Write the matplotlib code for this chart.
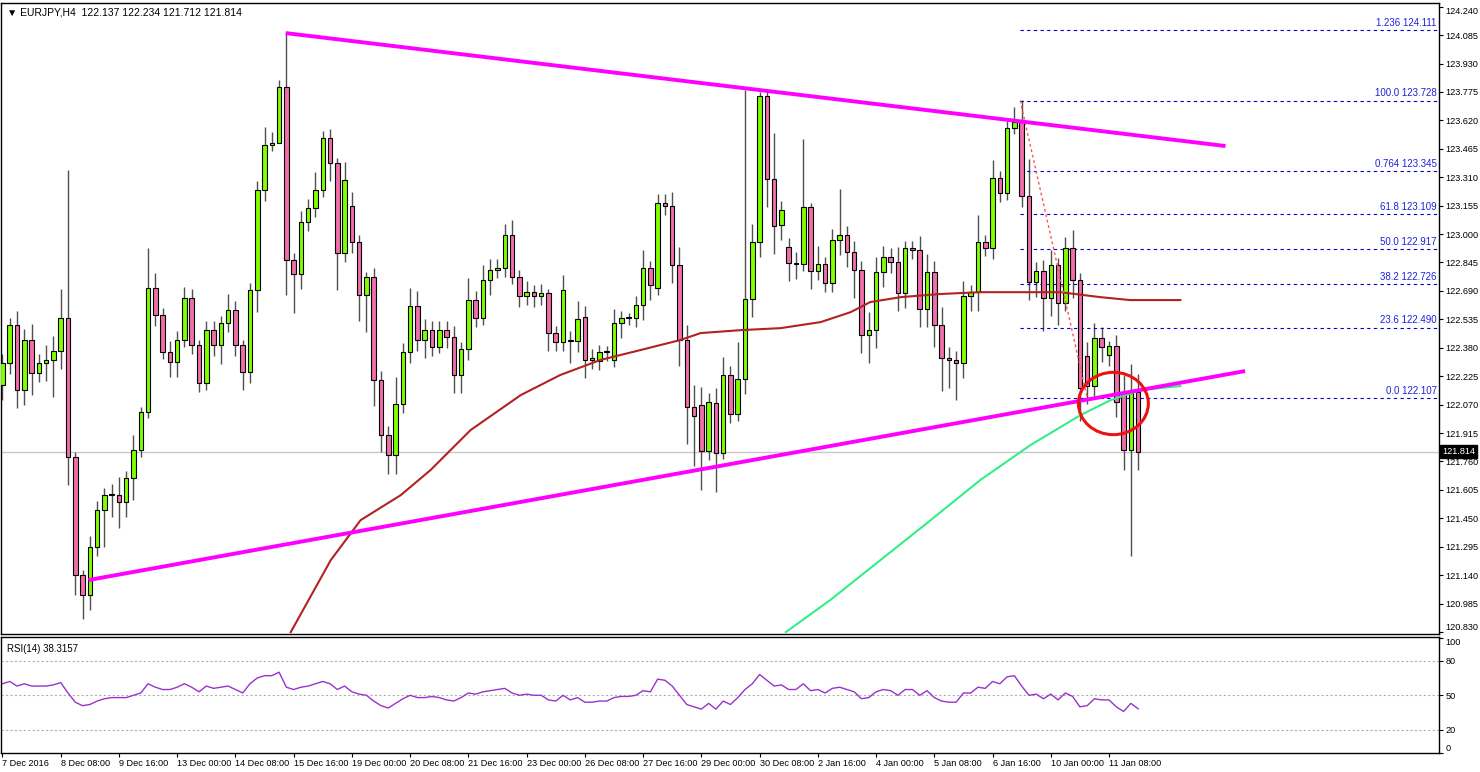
import matplotlib
matplotlib.use("Agg")
import matplotlib.pyplot as plt
from matplotlib.patches import Ellipse
import numpy as np

plt.rcParams['font.family'] = ['Liberation Sans', 'DejaVu Sans']

closes = [122.296,122.503,122.149,122.422,122.242,122.296,122.313,122.362,122.542,121.784,
121.140,121.031,121.293,121.494,121.576,121.576,121.538,121.669,121.822,122.029,
122.705,122.558,122.356,122.302,122.422,122.651,122.394,122.187,122.476,122.394,
122.514,122.585,122.394,122.247,122.694,123.240,123.485,123.496,123.802,122.858,
122.782,123.065,123.142,123.240,123.523,123.387,122.896,123.294,122.956,122.667,
122.765,122.203,121.904,121.794,122.073,122.356,122.607,122.422,122.476,122.383,
122.476,122.438,122.231,122.373,122.640,122.542,122.749,122.803,122.814,122.994,
122.765,122.662,122.683,122.662,122.678,122.460,122.411,122.694,122.416,122.536,
122.313,122.323,122.356,122.362,122.514,122.542,122.542,122.613,122.814,122.722,
123.169,123.152,122.831,122.422,122.056,122.007,121.816,122.083,121.805,122.231,
122.018,122.209,122.645,122.956,123.752,123.300,123.043,123.131,122.842,122.836,
123.147,122.798,122.836,122.733,122.967,122.994,122.902,122.803,122.449,122.476,
122.793,122.874,122.847,122.678,122.923,122.912,122.591,122.793,122.503,122.323,
122.313,122.296,122.662,122.683,122.956,122.923,123.305,123.223,123.578,123.611,
123.207,122.738,122.798,122.651,122.831,122.623,122.923,122.749,122.160,122.171,
122.433,122.383,122.389,122.083,121.822,122.133,121.814]

open_gaps = {0:122.176,48:123.152,78:122.422,80:122.547,82:122.307,84:122.313,90:122.705,
96:122.067,98:122.078,107:123.049,108:122.929,149:122.334,152:122.340,154:122.133,156:122.137}

wick_up = [5,4,8,6,9,5,8,8,16,81, 3,3,6,5,4,6,10,4,8,3, 22,8,4,6,5,6,5,3,5,5,
4,9,5,3,4,5,10,6,4,29, 4,6,5,10,4,5,3,10,8,4, 3,5,5,5,15,5,10,8,6,5,
5,5,6,4,12,5,8,6,5,6, 8,4,6,4,5,2,4,8,5,10, 6,5,4,3,8,4,3,5,10,4,
5,5,8,10,8,12,10,5,8,10, 5,20,114,10,2,2,25,5,5,6, 37,2,10,4,6,25,5,6,5,10,
8,6,5,8,4,4,8,10,6,10, 6,5,8,4,15,4,10,4,4,8, 12,20,5,6,8,4,6,10,4,8,
8,6,3,6,10,16,10]
wick_dn = [8,6,10,8,12,5,10,20,10,15, 11,13,8,5,20,12,14,8,12,4, 3,6,4,8,8,4,5,5,4,6,
10,5,6,10,6,12,6,3,0,19, 21,8,5,5,4,10,20,5,6,14, 20,14,9,10,10,5,6,6,10,5,
3,6,10,10,6,5,4,8,4,5, 4,6,5,6,5,10,5,5,12,6, 10,5,5,5,4,8,4,5,8,8,
4,5,10,14,20,27,21,5,21,3, 5,4,8,10,8,15,15,8,10,8, 4,10,5,5,5,8,8,15,10,15,
10,8,6,10,8,5,10,10,12,18, 15,20,8,8,10,4,6,5,4,3, 6,10,8,18,10,12,4,10,18,10,
6,8,6,8,11,58,10]

rsi = [60,62,58,60,58,58,58,59,61,52, 44,41,42,45,47,48,48,48,50,52,
60,57,55,55,57,60,57,53,58,56, 57,58,55,52,60,65,67,67,70,57,
55,57,58,60,62,60,55,58,53,51, 50,45,41,39,43,47,50,48,48,49,
48,46,45,48,52,51,53,54,55,56, 52,50,51,50,50,46,45,50,46,48,
44,44,45,45,48,49,49,50,54,53, 64,63,58,50,42,40,38,43,38,45,
42,48,55,60,68,63,58,59,55,55, 60,54,55,52,56,57,55,53,47,48,
53,55,54,50,55,55,50,54,48,45, 44,44,52,52,57,56,62,60,66,67,
58,50,51,47,51,46,52,49,40,41, 47,46,46,40,36,43,38.3157]

ma_red_x = [39.6,45.1,49.2,54.7,58.8,64.3,71.2,76.6,82.1,87.6,93.1,95.9,101.4,106.9,112.4,116.5,119.2,123.4,128.8,134.3,139.8,145.3,150.8,154.9,161.8]
ma_red_y = [120.829,121.222,121.440,121.576,121.713,121.931,122.122,122.231,122.313,122.367,122.422,122.460,122.476,122.487,122.520,122.574,122.629,122.656,122.673,122.683,122.683,122.683,122.656,122.640,122.640]
ma_green_x = [107.6,113.7,120.6,127.5,134.3,141.2,148.1,152.2,156.3,161.8]
ma_green_y = [120.829,121.004,121.222,121.440,121.658,121.849,122.013,122.094,122.149,122.171]

trend_upper = [(38.9,124.096),(168.0,123.480)]
trend_lower = [(11.8,121.113),(170.7,122.253)]
fib_levels = [("1.236",124.111),("100.0",123.728),("0.764",123.345),("61.8",123.109),
              ("50.0",122.917),("38.2",122.726),("23.6",122.490),("0.0",122.107)]
fib_start = 139.8
date_labels = ["7 Dec 2016","8 Dec 08:00","9 Dec 16:00","13 Dec 00:00","14 Dec 08:00","15 Dec 16:00",
"19 Dec 00:00","20 Dec 08:00","21 Dec 16:00","23 Dec 00:00","26 Dec 08:00","27 Dec 16:00",
"29 Dec 00:00","30 Dec 08:00","2 Jan 16:00","4 Jan 00:00","5 Jan 08:00","6 Jan 16:00",
"10 Jan 00:00","11 Jan 08:00"]
yticks = [124.240,124.085,123.930,123.775,123.620,123.465,123.310,123.155,123.000,122.845,122.690,
122.535,122.380,122.225,122.070,121.915,121.760,121.605,121.450,121.295,121.140,120.985,120.830]
rsi_ticks = [100, 80, 50, 20, 0]
last_price = 121.814

n = len(closes)
opens = [open_gaps.get(i, closes[i-1] if i > 0 else closes[0]) for i in range(n)]
highs = [max(o, c) + u/100 for o, c, u in zip(opens, closes, wick_up)]
lows = [min(o, c) - d/100 for o, c, d in zip(opens, closes, wick_dn)]
x = np.arange(n)

W, H = 1480, 772
PW = 1438
fig = plt.figure(figsize=(W/100, H/100), dpi=100)
ax = fig.add_axes([1/W, (H-634)/H, PW/W, 631/H])
ar = fig.add_axes([1/W, (H-753)/H, PW/W, 116/H])
xmax = -0.2 + PW/7.28
for a in (ax, ar):
    a.set_xlim(-0.2, xmax)
    for s in a.spines.values():
        s.set_linewidth(1.0); s.set_color('black')
ax.set_ylim(120.819, 124.260)
ar.set_ylim(0.3, 100.5)

ax.axhline(last_price, color='#c8c8c8', lw=1, zorder=1)
ax.vlines(x, lows, highs, color='#505050', lw=1, zorder=2)
bull = np.array(closes) >= np.array(opens)
bottoms = np.minimum(opens, closes)
heights = np.maximum(np.abs(np.array(closes) - np.array(opens)), 0.004)
ax.bar(x, heights, bottom=bottoms, width=0.62, color=np.where(bull, '#80ff00', '#f06eaa'),
       edgecolor='black', linewidth=0.8, zorder=3)

ax.plot(ma_red_x, ma_red_y, color='#b22222', lw=1.5, zorder=4)
ax.plot(ma_green_x, ma_green_y, color='#33ee88', lw=1.5, zorder=4)
for t in (trend_upper, trend_lower):
    ax.plot([t[0][0], t[1][0]], [t[0][1], t[1][1]], color='#ff00ff', lw=2.8, zorder=5, solid_capstyle='butt')
for lab, lv in fib_levels:
    ax.plot([fib_start, xmax], [lv, lv], color='#0000cc', lw=0.8, ls=(0, (3, 3)), zorder=2)
    ax.text(xmax - 0.3, lv + 0.012, f"{lab} {lv:.3f}", color='#2020dd', fontsize=7, ha='right', va='bottom')
ax.plot([fib_start, 149.0], [123.728, 122.107], color='#ff5555', lw=1, ls=(0, (2, 2)), zorder=4)
ax.add_patch(Ellipse((152.6, 122.076), 9.6, 0.34, fill=False, edgecolor='#ee1111', lw=2.2, zorder=6))

ax.yaxis.tick_right()
ax.set_yticks(yticks)
ax.set_yticklabels([f"{v:.3f}" for v in yticks], fontsize=6.6)
ax.tick_params(axis='y', length=3, pad=1.5)
for lbl in ax.get_yticklabels()[:1]:
    lbl.set_va('top')
for lbl in ax.get_yticklabels()[-1:]:
    lbl.set_va('bottom')
ax.set_xticks([])
ax.text(0.004, 0.993, "▼ EURJPY,H4  122.137 122.234 121.712 121.814", transform=ax.transAxes,
        fontsize=7.5, va='top', ha='left')
ax.text(1.002, last_price, f"{last_price:.3f}", transform=ax.get_yaxis_transform(), fontsize=6.6,
        color='white', va='center', ha='left', bbox=dict(boxstyle='square,pad=0.2', fc='black', ec='black'), zorder=10)

for lv in (80, 50, 20):
    ar.axhline(lv, color='#b0b0b0', lw=0.8, ls=(0, (2, 2)))
ar.plot(x, rsi, color='#9933cc', lw=1)
ar.yaxis.tick_right()
ar.set_yticks(rsi_ticks)
ar.set_yticklabels([str(v) for v in rsi_ticks], fontsize=6.6)
ar.tick_params(axis='y', length=3, pad=1.5)
rl = ar.get_yticklabels()
rl[0].set_va('top'); rl[-1].set_va('bottom')
ar.set_xticks([8*k for k in range(len(date_labels))])
ar.set_xticklabels(date_labels, fontsize=6.6, ha='left')
ar.tick_params(axis='x', length=3, pad=1)
ar.text(0.004, 0.94, "RSI(14) 38.3157", transform=ar.transAxes, fontsize=7, va='top', ha='left')

fig.savefig("out.png", dpi=100)
